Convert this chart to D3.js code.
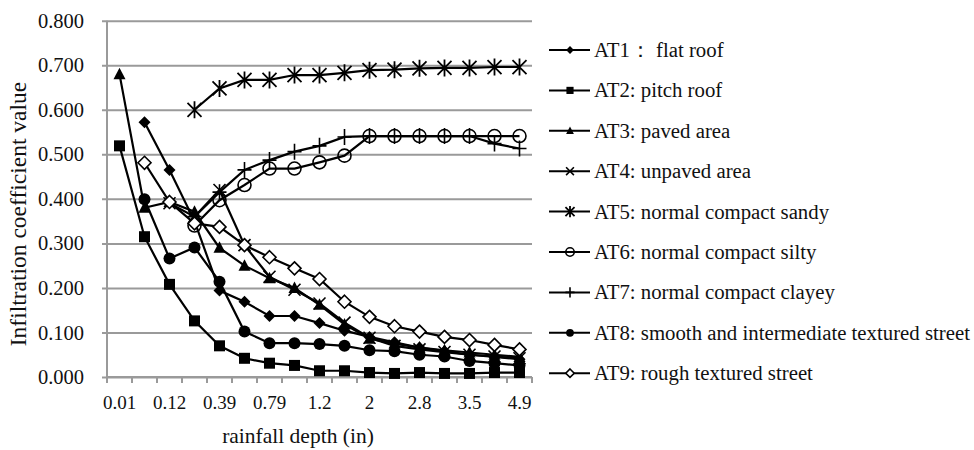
<!DOCTYPE html>
<html>
<head>
<meta charset="utf-8">
<script src="https://cdn.jsdelivr.net/npm/d3@7"></script>
<style>
  html, body { margin: 0; padding: 0; background: #fff; }
  svg { display: block; font-family: "Liberation Serif", "Times New Roman", serif; }
</style>
</head>
<body>
<div id="chart"></div>
<script>
// --- Data ---
const categories = ["0.01", "0.04", "0.12", "0.24", "0.39", "0.59", "0.79", "1", "1.2",
                    "1.6", "2", "2.4", "2.8", "3.1", "3.5", "3.9", "4.9"];
const tickLabels = ["0.01", "0.12", "0.39", "0.79", "1.2", "2", "2.8", "3.5", "4.9"];
const yTicks = [0, 0.1, 0.2, 0.3, 0.4, 0.5, 0.6, 0.7, 0.8];

const at1 = [null, 0.572, 0.465, 0.350, 0.194, 0.169, 0.137, 0.137, 0.121, 0.104, 0.090, 0.078, 0.066, 0.058, 0.050, 0.045, 0.040];
const at2 = [0.519, 0.315, 0.208, 0.126, 0.070, 0.042, 0.031, 0.026, 0.014, 0.014, 0.010, 0.008, 0.010, 0.008, 0.008, 0.010, 0.010];
const at3 = [0.680, 0.380, 0.393, 0.371, 0.290, 0.250, 0.222, 0.200, 0.162, 0.118, 0.086, 0.075, 0.066, 0.060, 0.055, 0.050, 0.045];
const at4 = [null, null, 0.390, 0.360, 0.420, 0.296, 0.225, 0.196, 0.165, 0.122, 0.088, 0.070, 0.062, 0.056, 0.050, 0.046, 0.042];
const at5 = [null, null, null, 0.600, 0.648, 0.667, 0.667, 0.678, 0.678, 0.683, 0.689, 0.690, 0.693, 0.694, 0.694, 0.696, 0.696];
const at6 = [null, null, null, 0.340, 0.397, 0.431, 0.468, 0.468, 0.482, 0.497, 0.541, 0.541, 0.541, 0.541, 0.541, 0.541, 0.541];
const at7 = [null, null, null, 0.360, 0.415, 0.465, 0.487, 0.506, 0.519, 0.539, 0.541, 0.541, 0.541, 0.541, 0.541, 0.524, 0.513];
const at8 = [null, 0.399, 0.266, 0.291, 0.214, 0.102, 0.076, 0.076, 0.074, 0.070, 0.060, 0.058, 0.050, 0.046, 0.036, 0.031, 0.026];
const at9 = [null, 0.481, 0.393, 0.345, 0.337, 0.296, 0.269, 0.244, 0.220, 0.169, 0.135, 0.114, 0.102, 0.090, 0.083, 0.072, 0.062];

const seriesNames = ["AT1：  flat roof", "AT2: pitch roof", "AT3: paved area", "AT4: unpaved area",
                     "AT5: normal compact sandy", "AT6: normal compact silty", "AT7: normal compact clayey",
                     "AT8: smooth and intermediate textured street", "AT9: rough textured street"];
const seriesValues = [at1, at2, at3, at4, at5, at6, at7, at8, at9];
const markerKinds = ["diamond", "square", "triangle", "x", "asterisk", "circle", "plus", "dot", "diamondOpen"];

// --- Layout ---
const W = 974, H = 450;
const plot = { left: 107, right: 532, top: 20.7, bottom: 377 };

const svg = d3.select("#chart").append("svg")
    .attr("width", W).attr("height", H);

const x = d3.scaleBand().domain(categories).range([plot.left, plot.right]).paddingInner(0).paddingOuter(0);
const y = d3.scaleLinear().domain([0, 0.8]).range([plot.bottom, plot.top]);
const cx = c => x(c) + x.bandwidth() / 2;

const gridColor = "#9a9a9a";
const textColor = "#111";

// gridlines + y tick labels
const yAxis = d3.axisLeft(y).tickValues(yTicks).tickFormat(d3.format(".3f"))
    .tickSize(-(plot.right - plot.left)).tickPadding(23);
const yG = svg.append("g").attr("transform", `translate(${plot.left},0)`).call(yAxis);
yG.select(".domain").remove();
yG.selectAll(".tick line").attr("stroke", gridColor).attr("stroke-width", 2).attr("x1", -5);
yG.selectAll(".tick text").attr("font-size", 20.5).attr("fill", textColor)
    .attr("font-family", "Liberation Serif, serif");

// y axis line
svg.append("line").attr("x1", plot.left).attr("x2", plot.left)
    .attr("y1", plot.top).attr("y2", plot.bottom)
    .attr("stroke", gridColor).attr("stroke-width", 2);

// x axis line and ticks at band boundaries
svg.append("line").attr("x1", plot.left).attr("x2", plot.right)
    .attr("y1", plot.bottom).attr("y2", plot.bottom)
    .attr("stroke", gridColor).attr("stroke-width", 2);
const edges = categories.map(c => x(c)).concat([plot.right]);
svg.append("g").selectAll("line").data(edges).join("line")
    .attr("x1", d => d).attr("x2", d => d)
    .attr("y1", plot.bottom).attr("y2", plot.bottom + 6)
    .attr("stroke", gridColor).attr("stroke-width", 2);

svg.append("g").selectAll("text").data(tickLabels).join("text")
    .attr("x", d => cx(d)).attr("y", 409)
    .attr("text-anchor", "middle").attr("font-size", 19).attr("fill", textColor)
    .text(d => d);

// axis titles
svg.append("text").attr("x", 298).attr("y", 443).attr("text-anchor", "middle")
    .attr("font-size", 21.5).attr("fill", textColor).text("rainfall depth (in)");
svg.append("text").attr("transform", "translate(26,214) rotate(-90)")
    .attr("text-anchor", "middle").attr("font-size", 23.5).attr("fill", textColor)
    .text("Infiltration coefficient value");

// --- Markers ---
function drawMarker(g, kind, s) {
    const k = s / 10;
    switch (kind) {
        case "diamond":
            g.append("path").attr("d", `M0,${-6*k}L${6*k},0L0,${6*k}L${-6*k},0Z`).attr("fill", "#000");
            break;
        case "diamondOpen":
            g.append("path").attr("d", `M0,${-6.5*k}L${6.5*k},0L0,${6.5*k}L${-6.5*k},0Z`)
                .attr("fill", "#fff").attr("stroke", "#000").attr("stroke-width", 1.6);
            break;
        case "square":
            g.append("rect").attr("x", -5.5*k).attr("y", -5.5*k).attr("width", 11*k).attr("height", 11*k).attr("fill", "#000");
            break;
        case "triangle":
            g.append("path").attr("d", `M0,${-6.5*k}L${6*k},${5*k}L${-6*k},${5*k}Z`).attr("fill", "#000");
            break;
        case "dot":
            g.append("circle").attr("r", 6*k).attr("fill", "#000");
            break;
        case "circle":
            g.append("circle").attr("r", 6.5*k).attr("fill", "none").attr("stroke", "#000").attr("stroke-width", 1.6);
            break;
        case "x":
            g.append("path").attr("d", `M${-6*k},${-6*k}L${6*k},${6*k}M${-6*k},${6*k}L${6*k},${-6*k}`)
                .attr("stroke", "#000").attr("stroke-width", 1.6);
            break;
        case "plus":
            g.append("path").attr("d", `M0,${-8*k}V${8*k}M${-7*k},0H${7*k}`)
                .attr("stroke", "#000").attr("stroke-width", 1.6);
            break;
        case "asterisk":
            g.append("path").attr("d", `M${-7*k},${-7*k}L${7*k},${7*k}M${-7*k},${7*k}L${7*k},${-7*k}M0,${-8.5*k}V${8.5*k}`)
                .attr("stroke", "#000").attr("stroke-width", 1.8);
            break;
    }
}

// --- Series ---
const line = d3.line()
    .defined(d => d.v !== null)
    .x(d => cx(d.c)).y(d => y(d.v));

seriesValues.forEach((vals, i) => {
    const pts = vals.map((v, j) => ({ c: categories[j], v }));
    svg.append("path").datum(pts)
        .attr("d", line).attr("fill", "none")
        .attr("stroke", "#000").attr("stroke-width", 2.2);
    pts.filter(p => p.v !== null).forEach(p => {
        const g = svg.append("g").attr("transform", `translate(${cx(p.c)},${y(p.v)})`);
        drawMarker(g, markerKinds[i], 10);
    });
});

// --- Legend ---
const legend = svg.append("g");
seriesNames.forEach((name, i) => {
    const ly = 50 + i * 40.4;
    const row = legend.append("g").attr("transform", `translate(0,${ly})`);
    row.append("line").attr("x1", 549).attr("x2", 590).attr("y1", 0).attr("y2", 0)
        .attr("stroke", "#000").attr("stroke-width", 2);
    drawMarker(row.append("g").attr("transform", "translate(570,0)"), markerKinds[i], 6.5);
    row.append("text").attr("x", 594).attr("y", 7)
        .attr("font-size", 20.8).attr("fill", textColor).text(name);
});
</script>
</body>
</html>
